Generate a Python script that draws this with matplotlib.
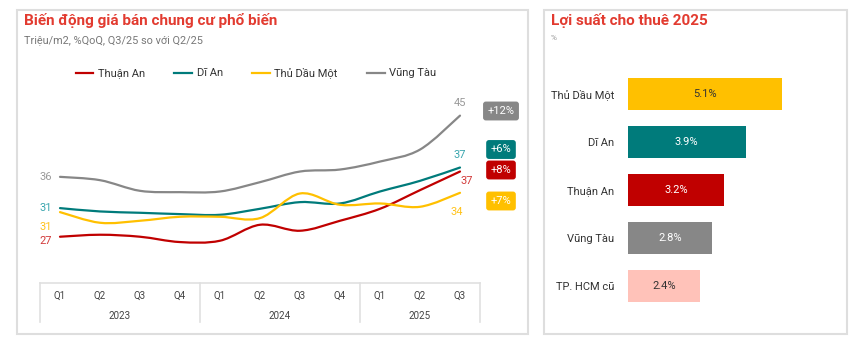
import numpy as np
import matplotlib
matplotlib.use('Agg')
import matplotlib.pyplot as plt
from matplotlib.path import Path
from matplotlib.patches import PathPatch, Rectangle
from matplotlib.lines import Line2D

plt.rcParams['font.family'] = ['Roboto', 'DejaVu Sans']

# Price data (million VND / m2), Q1 2023 .. Q3 2025
quarters = ['Q1', 'Q2', 'Q3', 'Q4', 'Q1', 'Q2', 'Q3', 'Q4', 'Q1', 'Q2', 'Q3']
years = ['2023', '2024', '2025']
thuan_an = [27.0, 27.3, 27.0, 26.2, 26.4, 28.8, 27.9, 29.4, 31.2, 34.0, 36.8]
di_an = [31.3, 30.8, 30.6, 30.4, 30.3, 31.2, 32.2, 32.0, 33.8, 35.4, 37.4]
thu_dau_mot = [30.7, 29.1, 29.4, 30.0, 30.0, 29.8, 33.5, 31.8, 32.0, 31.5, 33.6]
vung_tau = [36.0, 35.5, 33.9, 33.7, 33.8, 35.2, 36.8, 37.1, 38.3, 40.1, 45.2]
qoq = ['+8%', '+6%', '+7%', '+12%']

# Rental yield 2025 (%)
yield_cities = ['Thủ Dầu Một', 'Dĩ An', 'Thuận An', 'Vũng Tàu', 'TP. HCM cũ']
yield_values = [5.1, 3.9, 3.2, 2.8, 2.4]

RED = '#C00000'
TEAL = '#007B7B'
YELLOW = '#FFC000'
GRAY = '#878787'
PINK = '#FFC2B9'
TITLE_RED = '#E23B30'

W, H = 864, 351
fig = plt.figure(figsize=(W / 100, H / 100), dpi=100)


def px_rect(x0, y0, x1, y1):
    # convert pixel box (top-left origin) into figure fraction [l, b, w, h]
    return [x0 / W, 1 - y1 / H, (x1 - x0) / W, (y1 - y0) / H]


def smooth_line(ax, x, y, color):
    # Catmull-Rom curve through the points, drawn as cubic Bezier segments
    pts = np.column_stack([x, y]).astype(float)
    ext = np.vstack([pts[0], pts, pts[-1]])
    verts = [tuple(pts[0])]
    codes = [Path.MOVETO]
    for i in range(len(pts) - 1):
        p0, p1, p2, p3 = ext[i], ext[i + 1], ext[i + 2], ext[i + 3]
        c1 = p1 + (p2 - p0) / 6
        c2 = p2 - (p3 - p1) / 6
        verts += [tuple(c1), tuple(c2), tuple(p2)]
        codes += [Path.CURVE4] * 3
    ax.add_patch(PathPatch(Path(verts, codes), fill=False, edgecolor=color,
                           lw=1.6, capstyle='round'))


# panel frames
for box in [(17, 10, 528, 334), (544, 10, 847, 334)]:
    fig.patches.append(Rectangle((box[0] / W, 1 - box[3] / H),
                                 (box[2] - box[0]) / W, (box[3] - box[1]) / H,
                                 transform=fig.transFigure, fill=False,
                                 edgecolor='#DEDEDE', lw=1.5))

# titles
fig.text(24 / W, 1 - 21 / H, 'Biến động giá bán chung cư phổ biến', color=TITLE_RED,
         fontsize=11, fontweight='bold', va='center', ha='left')
fig.text(24 / W, 1 - 40 / H, 'Triệu/m2, %QoQ, Q3/25 so với Q2/25', color='#777777',
         fontsize=7.8, va='center', ha='left')
fig.text(551 / W, 1 - 21 / H, 'Lợi suất cho thuê 2025', color=TITLE_RED,
         fontsize=11, fontweight='bold', va='center', ha='left')
fig.text(551 / W, 1 - 38 / H, '%', color='#999999', fontsize=6, va='center', ha='left')

# ---- line chart ----
ax = fig.add_axes(px_rect(40, 97, 480, 270))
x = np.arange(len(quarters))
series = [('Thuận An', thuan_an, RED, '#D23A3A'),
          ('Dĩ An', di_an, TEAL, '#3AA6AE'),
          ('Thủ Dầu Một', thu_dau_mot, YELLOW, '#FFC21A'),
          ('Vũng Tàu', vung_tau, GRAY, '#999999')]
for name, vals, col, lab in series:
    smooth_line(ax, x, vals, col)
ax.set_xlim(-0.5, len(quarters) - 0.5)
ax.set_ylim(22, 48)
ax.axis('off')

# start / end value labels
start_off = {'Thuận An': (-6, -3), 'Dĩ An': (-6, 0), 'Thủ Dầu Một': (-6, -11), 'Vũng Tàu': (-6, 0)}
end_off = {'Thuận An': (5, -7), 'Dĩ An': (0, 9), 'Thủ Dầu Một': (-2, -14), 'Vũng Tàu': (0, 9)}
for name, vals, col, lab in series:
    ax.annotate(f'{vals[0]:.0f}', (x[0], vals[0]), xytext=start_off[name],
                textcoords='offset points', ha='right', va='center', color=lab, fontsize=8)
    ax.annotate(f'{vals[-1]:.0f}', (x[-1], vals[-1]), xytext=end_off[name],
                textcoords='offset points', ha='center', va='center', color=lab, fontsize=8)

# QoQ badges
badge_y = [170, 149.5, 201, 111]
for (name, vals, col, lab), txt, by in zip(series, qoq, badge_y):
    fig.text(501 / W, 1 - by / H, txt, color='white', fontsize=8, ha='center', va='center',
             bbox=dict(boxstyle='round,pad=0.4,rounding_size=0.25', fc=col, ec='none'))

# legend
handles = [Line2D([], [], color=col, lw=1.6) for _, _, col, _ in series]
fig.legend(handles, [s[0] for s in series], loc='center', bbox_to_anchor=(256 / W, 1 - 73 / H),
           ncol=4, frameon=False, fontsize=8, handlelength=1.6, handletextpad=0.4,
           columnspacing=2.65, labelcolor='#333333')

# category axis box
axc = fig.add_axes(px_rect(40, 283, 480, 322))
axc.set_xlim(-0.5, len(quarters) - 0.5)
axc.set_ylim(0, 1)
axc.axis('off')
grid_col = '#E0E0E0'
axc.plot([-0.5, len(quarters) - 0.5], [1, 1], color=grid_col, lw=1.2, clip_on=False)
for b in [-0.5, 3.5, 7.5, len(quarters) - 0.5]:
    axc.plot([b, b], [0, 1], color=grid_col, lw=1.2, clip_on=False)
for i, q in enumerate(quarters):
    axc.text(i, 0.66, q, ha='center', va='center', fontsize=7, color='#444444')
year_centers = [1.5, 5.5, 9.0]
for yc, yr in zip(year_centers, years):
    axc.text(yc, 0.15, yr, ha='center', va='center', fontsize=7, color='#444444')

# ---- bar chart ----
axb = fig.add_axes(px_rect(628, 70, 839, 310))
colors = [YELLOW, TEAL, RED, GRAY, PINK]
text_cols = ['#333333', 'white', 'white', 'white', '#333333']
ypos = np.arange(len(yield_cities))
bars = axb.barh(ypos, yield_values, height=0.67, color=colors)
axb.set_xlim(0, 7)
axb.set_ylim(len(yield_cities) - 0.5, -0.5)
axb.set_yticks(ypos)
axb.set_yticklabels(yield_cities, fontsize=8, color='#333333')
axb.tick_params(axis='y', length=0, pad=10)
axb.set_xticks([])
for s in axb.spines.values():
    s.set_visible(False)
for b, v, tc in zip(bars, yield_values, text_cols):
    axb.text(v / 2, b.get_y() + b.get_height() / 2, f'{v}%', ha='center', va='center',
             fontsize=8, color=tc)

fig.savefig('out.png', dpi=100)
